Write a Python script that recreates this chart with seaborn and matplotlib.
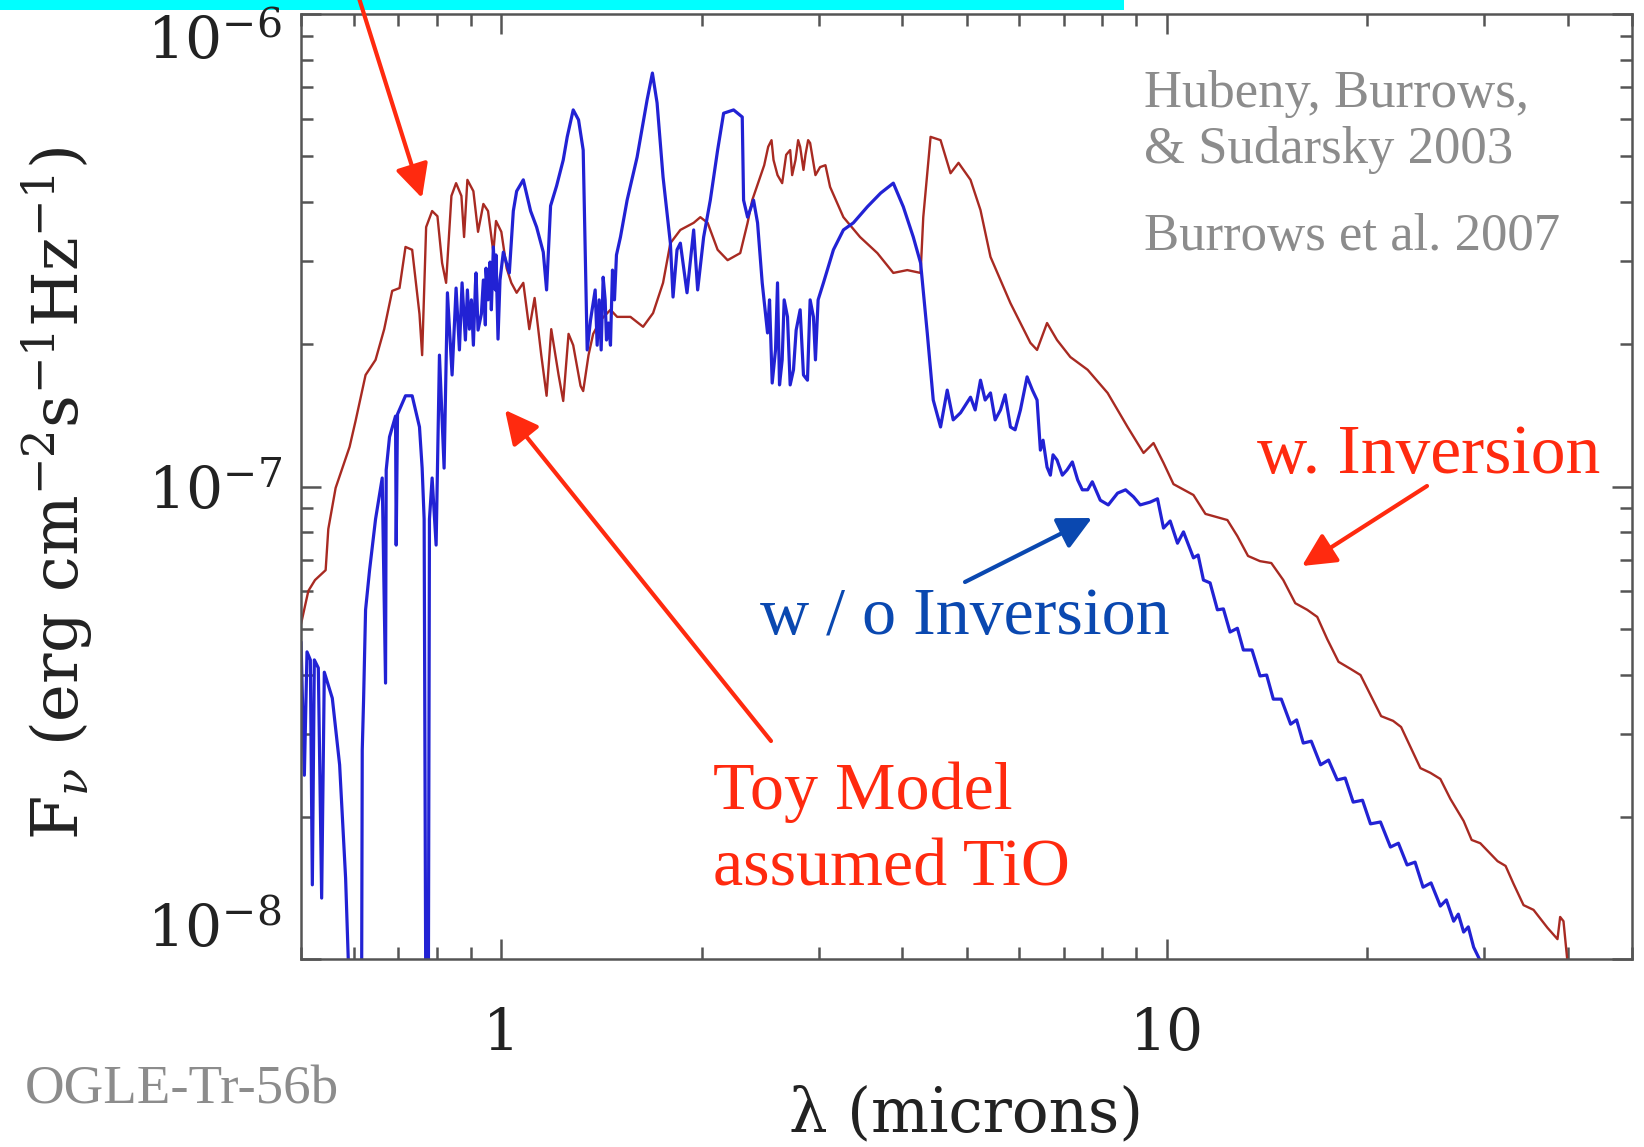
import numpy as np
import pandas as pd
import matplotlib
matplotlib.use("Agg")
import matplotlib.pyplot as plt
import seaborn as sns
from matplotlib.patches import Rectangle
from matplotlib.ticker import FixedLocator, LogLocator, NullFormatter

# ---- data: (log10 wavelength [micron], log10 F_nu [erg cm^-2 s^-1 Hz^-1]) ----
red_spectrum = [
    (-0.301, -7.291), (-0.290, -7.221), (-0.280, -7.198), (-0.264, -7.177), (-0.260, -7.090),
    (-0.249, -7.003), (-0.228, -6.916), (-0.219, -6.861), (-0.204, -6.764), (-0.189, -6.732),
    (-0.176, -6.667), (-0.164, -6.586), (-0.153, -6.580), (-0.144, -6.493), (-0.134, -6.499),
    (-0.123, -6.635), (-0.119, -6.722), (-0.113, -6.451), (-0.104, -6.417), (-0.096, -6.428),
    (-0.089, -6.527), (-0.083, -6.569), (-0.075, -6.385), (-0.068, -6.358), (-0.060, -6.385),
    (-0.056, -6.472), (-0.051, -6.351), (-0.042, -6.375), (-0.035, -6.461), (-0.027, -6.402),
    (-0.020, -6.417), (-0.012, -6.504), (-0.008, -6.438), (0.000, -6.461), (0.008, -6.538),
    (0.015, -6.569), (0.023, -6.590), (0.033, -6.569), (0.042, -6.667), (0.050, -6.601),
    (0.060, -6.722), (0.068, -6.808), (0.075, -6.667), (0.086, -6.764), (0.093, -6.819),
    (0.101, -6.677), (0.108, -6.701), (0.119, -6.787), (0.123, -6.798), (0.131, -6.722),
    (0.138, -6.677), (0.149, -6.648), (0.164, -6.626), (0.174, -6.641), (0.194, -6.641),
    (0.213, -6.662), (0.228, -6.633), (0.243, -6.569), (0.254, -6.485), (0.269, -6.457),
    (0.289, -6.442), (0.299, -6.430), (0.310, -6.442), (0.325, -6.499), (0.340, -6.521),
    (0.359, -6.506), (0.370, -6.442), (0.377, -6.394), (0.389, -6.345), (0.395, -6.320),
    (0.401, -6.281), (0.406, -6.267), (0.409, -6.309), (0.415, -6.341), (0.422, -6.358),
    (0.428, -6.298), (0.434, -6.288), (0.437, -6.341), (0.442, -6.309), (0.446, -6.267),
    (0.449, -6.281), (0.454, -6.330), (0.457, -6.298), (0.461, -6.267), (0.464, -6.273),
    (0.472, -6.341), (0.479, -6.324), (0.487, -6.320), (0.494, -6.366), (0.514, -6.430),
    (0.539, -6.472), (0.565, -6.506), (0.589, -6.548), (0.610, -6.542), (0.630, -6.548),
    (0.634, -6.430), (0.645, -6.260), (0.660, -6.267), (0.675, -6.337), (0.687, -6.315),
    (0.705, -6.351), (0.720, -6.415), (0.735, -6.514), (0.750, -6.563), (0.765, -6.612),
    (0.780, -6.654), (0.795, -6.696), (0.805, -6.711), (0.820, -6.654), (0.835, -6.690),
    (0.855, -6.726), (0.881, -6.753), (0.911, -6.802), (0.941, -6.874), (0.965, -6.929),
    (0.980, -6.908), (0.995, -6.950), (1.010, -6.995), (1.040, -7.018), (1.058, -7.058),
    (1.076, -7.065), (1.091, -7.071), (1.106, -7.105), (1.122, -7.147), (1.140, -7.158),
    (1.157, -7.162), (1.175, -7.198), (1.193, -7.247), (1.211, -7.261), (1.226, -7.276),
    (1.241, -7.323), (1.258, -7.371), (1.276, -7.386), (1.291, -7.399), (1.306, -7.441),
    (1.322, -7.486), (1.340, -7.496), (1.352, -7.509), (1.366, -7.551), (1.381, -7.596),
    (1.396, -7.606), (1.411, -7.619), (1.426, -7.661), (1.446, -7.708), (1.458, -7.748),
    (1.471, -7.755), (1.497, -7.793), (1.509, -7.803), (1.521, -7.841), (1.536, -7.886),
    (1.551, -7.896), (1.572, -7.934), (1.587, -7.958), (1.591, -7.911), (1.596, -7.920),
    (1.602, -8.006),
]

blue_spectrum = [
    (-0.301, -7.329), (-0.296, -7.611), (-0.292, -7.350), (-0.287, -7.367), (-0.284, -7.843),
    (-0.281, -7.367), (-0.275, -7.384), (-0.270, -7.871), (-0.266, -7.393), (-0.254, -7.448),
    (-0.243, -7.589), (-0.234, -7.829), (-0.228, -8.087), (-0.224, -8.298), (-0.215, -8.298),
    (-0.210, -8.087), (-0.209, -7.558), (-0.207, -7.452), (-0.204, -7.261), (-0.198, -7.177),
    (-0.189, -7.069), (-0.179, -6.982), (-0.174, -7.416), (-0.173, -6.965), (-0.168, -6.895),
    (-0.159, -6.851), (-0.158, -7.124), (-0.156, -6.847), (-0.144, -6.808), (-0.134, -6.808),
    (-0.123, -6.874), (-0.119, -6.961), (-0.116, -7.069), (-0.113, -8.298), (-0.110, -8.298),
    (-0.108, -7.069), (-0.104, -6.982), (-0.098, -7.124), (-0.093, -6.722), (-0.086, -6.961),
    (-0.081, -6.590), (-0.074, -6.764), (-0.068, -6.580), (-0.063, -6.711), (-0.059, -6.569),
    (-0.054, -6.690), (-0.051, -6.584), (-0.048, -6.667), (-0.045, -6.605), (-0.042, -6.701),
    (-0.039, -6.574), (-0.038, -6.548), (-0.035, -6.669), (-0.030, -6.635), (-0.027, -6.563),
    (-0.024, -6.658), (-0.023, -6.538), (-0.020, -6.605), (-0.017, -6.525), (-0.015, -6.626),
    (-0.012, -6.493), (-0.009, -6.584), (-0.008, -6.510), (-0.005, -6.688), (-0.002, -6.563),
    (0.003, -6.504), (0.012, -6.548), (0.018, -6.417), (0.023, -6.375), (0.033, -6.351),
    (0.044, -6.417), (0.053, -6.451), (0.063, -6.504), (0.068, -6.584), (0.074, -6.406),
    (0.083, -6.364), (0.093, -6.309), (0.099, -6.260), (0.108, -6.203), (0.116, -6.224),
    (0.123, -6.288), (0.126, -6.499), (0.129, -6.711), (0.134, -6.648), (0.138, -6.612),
    (0.141, -6.584), (0.144, -6.701), (0.147, -6.605), (0.149, -6.675), (0.150, -6.711),
    (0.153, -6.557), (0.156, -6.605), (0.158, -6.690), (0.161, -6.654), (0.164, -6.701),
    (0.167, -6.542), (0.170, -6.605), (0.173, -6.510), (0.179, -6.472), (0.189, -6.394),
    (0.204, -6.303), (0.219, -6.182), (0.227, -6.125), (0.234, -6.188), (0.243, -6.345),
    (0.254, -6.485), (0.258, -6.599), (0.264, -6.499), (0.269, -6.485), (0.279, -6.590),
    (0.289, -6.457), (0.295, -6.584), (0.304, -6.472), (0.314, -6.394), (0.325, -6.288),
    (0.334, -6.210), (0.349, -6.203), (0.362, -6.218), (0.364, -6.394), (0.370, -6.430),
    (0.379, -6.394), (0.385, -6.442), (0.392, -6.569), (0.400, -6.675), (0.403, -6.605),
    (0.407, -6.781), (0.412, -6.711), (0.415, -6.569), (0.418, -6.785), (0.422, -6.732),
    (0.425, -6.605), (0.430, -6.641), (0.434, -6.785), (0.439, -6.753), (0.443, -6.669),
    (0.449, -6.626), (0.454, -6.764), (0.460, -6.775), (0.464, -6.605), (0.469, -6.641),
    (0.472, -6.732), (0.476, -6.605), (0.484, -6.569), (0.499, -6.499), (0.514, -6.457),
    (0.529, -6.442), (0.550, -6.408), (0.570, -6.379), (0.589, -6.358), (0.604, -6.408),
    (0.619, -6.472), (0.630, -6.527), (0.640, -6.675), (0.649, -6.817), (0.660, -6.874),
    (0.670, -6.796), (0.679, -6.859), (0.690, -6.844), (0.705, -6.811), (0.712, -6.838),
    (0.720, -6.775), (0.727, -6.817), (0.735, -6.802), (0.742, -6.859), (0.750, -6.838),
    (0.757, -6.806), (0.765, -6.874), (0.772, -6.880), (0.780, -6.838), (0.790, -6.768),
    (0.798, -6.796), (0.805, -6.817), (0.810, -6.923), (0.814, -6.902), (0.820, -6.959),
    (0.825, -6.976), (0.829, -6.933), (0.835, -6.944), (0.843, -6.976), (0.850, -6.965),
    (0.858, -6.948), (0.866, -6.986), (0.873, -7.007), (0.881, -7.007), (0.888, -6.990),
    (0.900, -7.029), (0.912, -7.039), (0.926, -7.014), (0.938, -7.007), (0.950, -7.022),
    (0.960, -7.039), (0.975, -7.033), (0.986, -7.026), (0.995, -7.088), (1.005, -7.073),
    (1.016, -7.120), (1.025, -7.096), (1.040, -7.151), (1.047, -7.145), (1.055, -7.198),
    (1.065, -7.204), (1.076, -7.261), (1.085, -7.259), (1.095, -7.308), (1.106, -7.300),
    (1.115, -7.346), (1.128, -7.346), (1.140, -7.401), (1.150, -7.399), (1.160, -7.450),
    (1.172, -7.450), (1.186, -7.503), (1.195, -7.494), (1.205, -7.543), (1.217, -7.539),
    (1.231, -7.589), (1.243, -7.579), (1.256, -7.621), (1.268, -7.617), (1.280, -7.668),
    (1.294, -7.664), (1.306, -7.714), (1.321, -7.710), (1.336, -7.763), (1.348, -7.755),
    (1.361, -7.801), (1.373, -7.795), (1.385, -7.848), (1.397, -7.839), (1.411, -7.888),
    (1.420, -7.875), (1.431, -7.920), (1.438, -7.905), (1.446, -7.943), (1.453, -7.932),
    (1.461, -7.975), (1.471, -8.004), (1.480, -8.087),
]

x_ticks = [1, 10]
x_ticklabels = ["1", "10"]
y_ticks = [1e-8, 1e-7, 1e-6]
y_ticklabels = [r"$10^{-8}$", r"$10^{-7}$", r"$10^{-6}$"]

# ---- styling ----
sns.set_theme(style="ticks")
plt.rcParams["font.family"] = ["DejaVu Serif"]
plt.rcParams["mathtext.fontset"] = "dejavuserif"

W, H = 1644, 1147
fig = plt.figure(figsize=(W / 100, H / 100), dpi=100)
fig.patch.set_facecolor("white")


def fx(x):
    return x / W


def fy(y):
    return 1 - y / H


ax = fig.add_axes([fx(301), fy(959), 1331 / W, 945 / H])

red_arr = np.array(red_spectrum)
blue_arr = np.array(blue_spectrum)
df_red = pd.DataFrame({"lam": 10 ** red_arr[:, 0], "flux": 10 ** red_arr[:, 1]})
df_blue = pd.DataFrame({"lam": 10 ** blue_arr[:, 0], "flux": 10 ** blue_arr[:, 1]})

sns.lineplot(data=df_red, x="lam", y="flux", ax=ax, color="#a82a22", linewidth=1.7,
             sort=False, estimator=None)
sns.lineplot(data=df_blue, x="lam", y="flux", ax=ax, color="#2222d4", linewidth=2.3,
             sort=False, estimator=None)

ax.set_xscale("log")
ax.set_yscale("log")
ax.set_xlim(0.5, 50)
ax.set_ylim(1e-8, 1e-6)

ax.xaxis.set_major_locator(FixedLocator(x_ticks))
ax.xaxis.set_minor_locator(LogLocator(base=10, subs=np.arange(2, 10)))
ax.yaxis.set_major_locator(FixedLocator(y_ticks))
ax.yaxis.set_minor_locator(LogLocator(base=10, subs=np.arange(2, 10)))
ax.set_xticks(x_ticks, x_ticklabels)
ax.set_yticks(y_ticks, y_ticklabels)
ax.xaxis.set_minor_formatter(NullFormatter())
ax.yaxis.set_minor_formatter(NullFormatter())

ax.tick_params(which="both", direction="in", top=True, right=True,
               width=1.8, color="#555555", labelcolor="#222222")
ax.tick_params(which="major", length=14.5, labelsize=42)
ax.tick_params(which="minor", length=8.5)
ax.tick_params(axis="x", which="major", pad=34)
ax.tick_params(axis="y", which="major", pad=14)
for s in ax.spines.values():
    s.set_color("#555555")
    s.set_linewidth(1.8)

ylabs = ax.get_yticklabels()
ylabs[0].set_va("bottom")
ylabs[2].set_va("top")

ax.set_xlabel("λ (microns)", fontsize=44, color="#222222")
ax.xaxis.set_label_coords(0.5, -0.133)
ax.set_ylabel(r"F$_\nu$ (erg cm$^{-2}$s$^{-1}$Hz$^{-1}$)", fontsize=46, color="#222222")
ax.yaxis.set_label_coords(-0.183, 0.493)
ax.yaxis.label.set_va("center")

# ---- cyan bar across the top ----
fig.add_artist(Rectangle((0, fy(10)), 1124 / W, 10 / H, transform=fig.transFigure,
                         facecolor="#00ffff", edgecolor="none", zorder=-1))

# ---- texts ----
serif = ["Liberation Serif", "DejaVu Serif"]
gray = "#8c8c8c"
red = "#ff2a0f"
blue = "#0a48b0"
fig.text(fx(1144), fy(107), "Hubeny, Burrows,", fontsize=38, color=gray, family=serif, va="baseline")
fig.text(fx(1144), fy(163), "& Sudarsky 2003", fontsize=38, color=gray, family=serif, va="baseline")
fig.text(fx(1144), fy(250), "Burrows et al. 2007", fontsize=38, color=gray, family=serif, va="baseline")
fig.text(fx(25), fy(1103), "OGLE-Tr-56b", fontsize=39.5, color=gray, family=serif, va="baseline")
fig.text(fx(1257), fy(473), "w. Inversion", fontsize=50, color=red, family=serif, va="baseline")
fig.text(fx(760), fy(634), "w / o Inversion", fontsize=49, color=blue, family=serif, va="baseline")
fig.text(fx(713), fy(809), "Toy Model", fontsize=49, color=red, family=serif, va="baseline")
fig.text(fx(713), fy(886), "assumed TiO", fontsize=49, color=red, family=serif, va="baseline")


# ---- arrows ----
def arrow(tail, tip, color):
    ax.annotate("", xy=(fx(tip[0]), fy(tip[1])), xycoords="figure fraction",
                xytext=(fx(tail[0]), fy(tail[1])), textcoords="figure fraction",
                arrowprops=dict(arrowstyle="-|>,head_length=0.6,head_width=0.3",
                                lw=3, color=color, mutation_scale=34,
                                shrinkA=0, shrinkB=0),
                annotation_clip=False)


arrow((358, -5), (422, 198), red)
arrow((771, 741), (505, 410), red)
arrow((965, 582), (1092, 518), blue)
arrow((1427, 486), (1302, 566), red)

fig.savefig("out.png", dpi=100)
